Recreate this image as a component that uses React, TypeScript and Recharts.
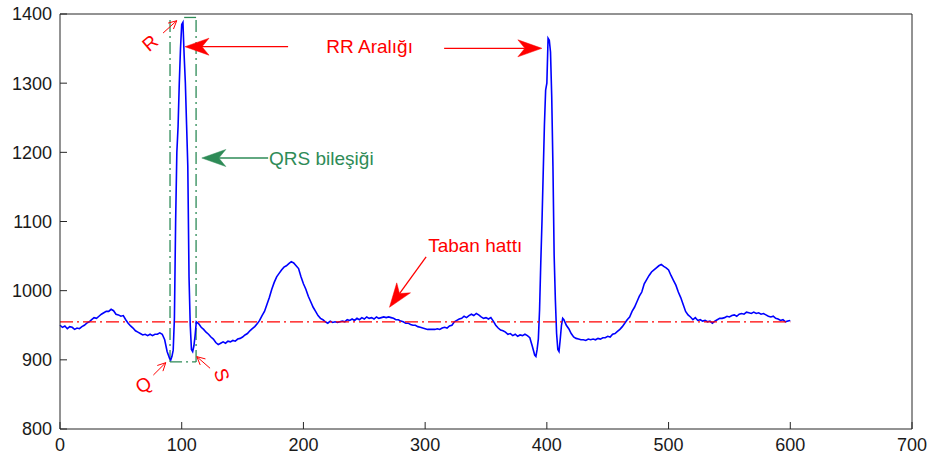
import React from "react";
import { LineChart, Line, XAxis, YAxis, ReferenceLine, ReferenceDot } from "recharts";

// ECG trace
const ecgX = [
  0, 2, 4, 6, 8, 10, 12, 14, 16, 18, 20, 22, 24, 26, 28, 30, 32, 34, 36, 38, 40, 42, 44, 46, 48, 50,
  52, 54, 56, 58, 60, 62, 64, 66, 68, 70, 72, 74, 76, 78, 80, 82, 84, 86, 88, 90, 91, 92, 93, 94,
  95, 96, 97, 98, 99, 100, 101, 102, 103, 104, 105, 106, 107, 108, 109, 110, 111, 112, 114, 116,
  118, 120, 122, 124, 126, 128, 130, 132, 134, 136, 138, 140, 142, 144, 146, 148, 150, 152, 154,
  156, 158, 160, 162, 164, 166, 168, 170, 172, 174, 176, 178, 180, 182, 184, 186, 188, 190, 192,
  194, 196, 198, 200, 202, 204, 206, 208, 210, 212, 214, 216, 218, 220, 222, 224, 226, 228, 230,
  232, 234, 236, 238, 240, 242, 244, 246, 248, 250, 252, 254, 256, 258, 260, 262, 264, 266, 268,
  270, 272, 274, 276, 278, 280, 282, 284, 286, 288, 290, 292, 294, 296, 298, 300, 302, 304, 306,
  308, 310, 312, 314, 316, 318, 320, 322, 324, 326, 328, 330, 332, 334, 336, 338, 340, 342, 344,
  346, 348, 350, 352, 354, 356, 358, 360, 362, 364, 366, 368, 370, 372, 374, 376, 378, 380, 382,
  384, 386, 388, 390, 391, 392, 393, 394, 395, 396, 397, 398, 399, 400, 401, 402, 403, 404, 405,
  406, 407, 408, 409, 410, 411, 412, 413, 414, 416, 418, 420, 422, 424, 426, 428, 430, 432, 434,
  436, 438, 440, 442, 444, 446, 448, 450, 452, 454, 456, 458, 460, 462, 464, 466, 468, 470, 472,
  474, 476, 478, 480, 482, 484, 486, 488, 490, 492, 494, 496, 498, 500, 502, 504, 506, 508, 510,
  512, 514, 516, 518, 520, 522, 524, 526, 528, 530, 532, 534, 536, 538, 540, 542, 544, 546, 548,
  550, 552, 554, 556, 558, 560, 562, 564, 566, 568, 570, 572, 574, 576, 578, 580, 582, 584, 586,
  588, 590, 592, 594, 596, 598, 600,
];
const ecgY = [
  950, 947, 949, 945, 948, 947, 944, 946, 945, 948, 950, 953, 955, 958, 961, 960, 963, 966, 968, 970,
  970, 973, 971, 966, 965, 963, 964, 958, 953, 949, 946, 942, 940, 938, 936, 937, 935, 937, 935, 937,
  937, 939, 937, 929, 912, 902, 900, 905, 914, 960, 1100, 1200, 1237, 1300, 1350, 1385, 1388, 1340,
  1300, 1240, 1180, 1020, 950, 915, 912, 920, 935, 955, 952, 947, 944, 940, 937, 933, 930, 925, 922,
  924, 926, 924, 927, 926, 928, 927, 930, 931, 933, 936, 938, 942, 945, 948, 952, 957, 964, 970, 980,
  990, 1002, 1012, 1020, 1025, 1030, 1034, 1036, 1039, 1042, 1040, 1036, 1032, 1020, 1010, 1002, 992,
  984, 976, 970, 964, 960, 958, 955, 953, 956, 954, 955, 954, 955, 956, 955, 958, 957, 959, 957, 960,
  958, 961, 959, 962, 960, 961, 959, 962, 960, 961, 962, 961, 962, 961, 960, 958, 958, 956, 955, 953,
  953, 951, 950, 950, 948, 947, 946, 945, 944, 944, 944, 944, 945, 944, 946, 947, 946, 949, 950, 955,
  957, 959, 960, 963, 961, 964, 966, 964, 967, 965, 962, 960, 961, 959, 961, 956, 950, 946, 943, 942,
  940, 937, 938, 935, 937, 934, 936, 935, 937, 935, 932, 920, 907, 905, 915, 930, 972, 1040, 1100,
  1170, 1240, 1290, 1300, 1365, 1362, 1345, 1280, 1180, 1050, 986, 938, 915, 912, 930, 950, 960, 958,
  950, 945, 938, 933, 931, 930, 929, 929, 928, 930, 929, 930, 929, 931, 930, 932, 932, 934, 933, 937,
  938, 941, 944, 948, 953, 958, 962, 970, 976, 984, 992, 998, 1010, 1016, 1022, 1027, 1030, 1033,
  1036, 1038, 1035, 1033, 1030, 1022, 1015, 1008, 998, 990, 980, 970, 965, 962, 958, 961, 957, 958,
  956, 957, 955, 956, 953, 956, 958, 960, 960, 961, 963, 962, 964, 965, 963, 966, 967, 966, 969, 968,
  967, 969, 967, 968, 966, 967, 965, 963, 962, 963, 960, 959, 957, 958, 955, 956, 957,
];

const xTicks = [0, 100, 200, 300, 400, 500, 600, 700];
const yTicks = [800, 900, 1000, 1100, 1200, 1300, 1400];

// baseline (Taban hattı)
const baselineY = 955;
const baselineX = [0, 600];

// QRS box edges
const qrsLeft = 90.4;
const qrsRight = 111.8;
const qrsBottom = 897;
const qrsTop = 1395;
const qrsTopStart = 102;

const data = ecgX.map((x, i) => ({ x, y: ecgY[i] }));

const RED = "#ff0000";
const GREEN = "#2e8b57";
const FONT = "'Liberation Sans', Arial, sans-serif";

type ArrowProps = {
  x1?: number;
  y1?: number;
  x2?: number;
  y2?: number;
  color: string;
  thin?: boolean;
};

const Arrow = ({ x1 = 0, y1 = 0, x2 = 0, y2 = 0, color, thin }: ArrowProps) => {
  const dx = x2 - x1;
  const dy = y2 - y1;
  const len = Math.hypot(dx, dy) || 1;
  const ux = dx / len;
  const uy = dy / len;
  const nx = -uy;
  const ny = ux;
  if (thin) {
    const hb = 8;
    const hw = 4;
    return (
      <g stroke={color} strokeWidth={1} fill="none">
        <line x1={x1} y1={y1} x2={x2} y2={y2} />
        <polyline
          points={`${x2 - ux * hb + nx * hw},${y2 - uy * hb + ny * hw} ${x2},${y2} ${x2 - ux * hb - nx * hw},${y2 - uy * hb - ny * hw}`}
        />
      </g>
    );
  }
  const size = 24;
  const half = 8.5;
  const notch = 17;
  const bx = x2 - ux * size;
  const by = y2 - uy * size;
  const mx = x2 - ux * notch;
  const my = y2 - uy * notch;
  return (
    <g>
      <line x1={x1} y1={y1} x2={mx} y2={my} stroke={color} strokeWidth={1.3} />
      <polygon
        points={`${x2},${y2} ${bx + nx * half},${by + ny * half} ${mx},${my} ${bx - nx * half},${by - ny * half}`}
        fill={color}
        stroke={color}
        strokeWidth={0.5}
      />
    </g>
  );
};

const label = (text: string, color: string, anchor: "start" | "middle" | "end", rotate = 0) =>
  (p: any) => (
    <text
      x={p.cx}
      y={p.cy}
      fill={color}
      fontSize={19}
      fontFamily={FONT}
      textAnchor={anchor}
      dominantBaseline="central"
      transform={rotate ? `rotate(${rotate} ${p.cx} ${p.cy})` : undefined}
    >
      {text}
    </text>
  );

const axisTick = { fill: "#1a1a1a", fontSize: 18, fontFamily: FONT };

export default function App() {
  return (
    <div style={{ position: "absolute", left: 0, top: 0, background: "#fff" }}>
      <LineChart width={934} height={461} data={data} margin={{ top: 13, right: 21, bottom: 0, left: 0 }}>
        <XAxis
          dataKey="x"
          type="number"
          domain={[0, 700]}
          ticks={xTicks}
          height={32}
          tickSize={-7}
          tickMargin={16}
          tick={axisTick}
          stroke="#262626"
          interval={0}
        />
        <XAxis
          xAxisId="top"
          orientation="top"
          type="number"
          domain={[0, 700]}
          ticks={xTicks}
          height={1}
          tickSize={-7}
          tick={false}
          stroke="#262626"
          interval={0}
        />
        <YAxis
          type="number"
          domain={[800, 1400]}
          ticks={yTicks}
          width={60}
          tickSize={-7}
          tickMargin={15}
          tick={axisTick}
          stroke="#262626"
          interval={0}
        />
        <YAxis
          yAxisId="right"
          orientation="right"
          type="number"
          domain={[800, 1400]}
          ticks={yTicks}
          width={1}
          tickSize={-7}
          tick={false}
          stroke="#262626"
          interval={0}
        />

        {/* QRS box */}
        <ReferenceLine segment={[{ x: qrsLeft, y: qrsBottom }, { x: qrsLeft, y: qrsTop }]} stroke={GREEN} strokeWidth={1.3} strokeDasharray="12 4 2 4" />
        <ReferenceLine segment={[{ x: qrsRight, y: qrsBottom }, { x: qrsRight, y: qrsTop }]} stroke={GREEN} strokeWidth={1.3} strokeDasharray="12 4 2 4" />
        <ReferenceLine segment={[{ x: qrsLeft, y: qrsBottom }, { x: qrsRight, y: qrsBottom }]} stroke={GREEN} strokeWidth={1.3} strokeDasharray="12 4 2 4" />
        <ReferenceLine segment={[{ x: qrsTopStart, y: qrsTop }, { x: qrsRight, y: qrsTop }]} stroke={GREEN} strokeWidth={1.3} />

        <Line dataKey="y" stroke="#0000ff" strokeWidth={1.6} dot={false} isAnimationActive={false} />

        {/* baseline */}
        <ReferenceLine
          segment={[{ x: baselineX[0], y: baselineY }, { x: baselineX[1], y: baselineY }]}
          stroke={RED}
          strokeWidth={1.3}
          strokeDasharray="13 4 2 4"
        />

        {/* annotations */}
        <ReferenceLine segment={[{ x: 187.4, y: 1352.7 }, { x: 102.7, y: 1352.7 }]} shape={(p: any) => <Arrow {...p} color={RED} />} />
        <ReferenceLine segment={[{ x: 315.6, y: 1350.4 }, { x: 395.9, y: 1350.4 }]} shape={(p: any) => <Arrow {...p} color={RED} />} />
        <ReferenceDot x={254.4} y={1352.7} r={0} shape={label("RR Aralığı", RED, "middle")} />

        <ReferenceLine segment={[{ x: 171, y: 1191.8 }, { x: 116.5, y: 1191.8 }]} shape={(p: any) => <Arrow {...p} color={GREEN} />} />
        <ReferenceDot x={171.8} y={1191.8} r={0} shape={label("QRS bileşiği", GREEN, "start")} />

        <ReferenceLine segment={[{ x: 300.8, y: 1048.7 }, { x: 270.7, y: 976 }]} shape={(p: any) => <Arrow {...p} color={RED} />} />
        <ReferenceDot x={302.5} y={1066} r={0} shape={label("Taban hattı", RED, "start")} />

        <ReferenceLine segment={[{ x: 84.7, y: 1372.5 }, { x: 95.9, y: 1390.3 }]} shape={(p: any) => <Arrow {...p} color={RED} thin />} />
        <ReferenceDot x={74} y={1358} r={0} shape={label("R", RED, "middle", -40)} />

        <ReferenceLine segment={[{ x: 76.7, y: 878 }, { x: 86.9, y: 895.9 }]} shape={(p: any) => <Arrow {...p} color={RED} thin />} />
        <ReferenceDot x={68.5} y={863.6} r={0} shape={label("Q", RED, "middle", -30)} />

        <ReferenceLine segment={[{ x: 123.3, y: 887.8 }, { x: 112.4, y: 904.6 }]} shape={(p: any) => <Arrow {...p} color={RED} thin />} />
        <ReferenceDot x={132.9} y={878} r={0} shape={label("S", RED, "middle", 70)} />
      </LineChart>
    </div>
  );
}
